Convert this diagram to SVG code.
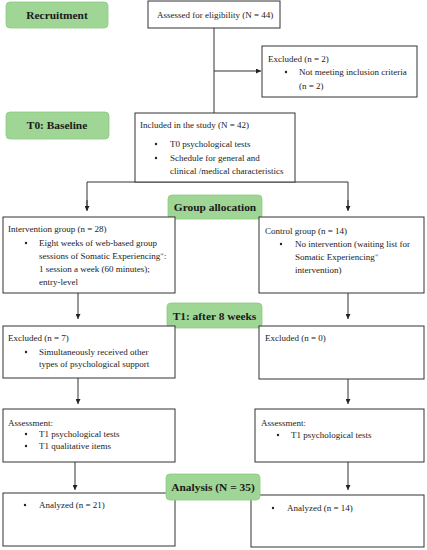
<svg xmlns="http://www.w3.org/2000/svg" width="427" height="550" viewBox="0 0 427 550">
<style>
.box{fill:#fff;stroke:#333;stroke-width:1}
.stage{fill:#9fd595;stroke:#8ccb82;stroke-width:0.8}
.t{font-family:"Liberation Serif","Times New Roman",serif;font-size:9px;fill:#222}
.s{font-family:"Liberation Serif","Times New Roman",serif;font-size:11.4px;font-weight:bold;fill:#1a1a1a;text-anchor:middle}
.c{stroke:#333;stroke-width:1;fill:none}
</style>
<defs>
<marker id="ah" viewBox="0 0 6 6" refX="6" refY="3" markerWidth="5" markerHeight="5" orient="auto" markerUnits="userSpaceOnUse">
<path d="M0,0 L6,3 L0,6 z" fill="#222"/>
</marker>
</defs>
<rect width="427" height="550" fill="#fff"/>
<g id="connectors">
<line class="c" x1="214" y1="28" x2="214" y2="113"/>
<line class="c" x1="214" y1="71" x2="261" y2="71" marker-end="url(#ah)"/>
<polyline class="c" points="87,210 87,182 348,182 348,210" />
<line class="c" x1="87" y1="200" x2="87" y2="211" marker-end="url(#ah)"/>
<line class="c" x1="348" y1="200" x2="348" y2="211" marker-end="url(#ah)"/>
<line class="c" x1="78" y1="293" x2="78" y2="319" marker-end="url(#ah)"/>
<line class="c" x1="348" y1="293" x2="348" y2="319" marker-end="url(#ah)"/>
<line class="c" x1="78" y1="378" x2="78" y2="404" marker-end="url(#ah)"/>
<line class="c" x1="348" y1="379" x2="348" y2="404" marker-end="url(#ah)"/>
<line class="c" x1="75" y1="462" x2="75" y2="490" marker-end="url(#ah)"/>
<line class="c" x1="348" y1="462" x2="348" y2="490" marker-end="url(#ah)"/>
</g>
<g id="recruitment">
<rect class="stage" x="6" y="2" width="102" height="26" rx="4"/>
<text class="s" x="57" y="19">Recruitment</text>
</g>
<g id="assessed">
<rect class="box" x="148" y="1" width="132" height="27"/>
<text class="t" x="157" y="18">Assessed for eligibility (N = 44)</text>
</g>
<g id="excluded1">
<rect class="box" x="262" y="46" width="155" height="51"/>
<text class="t" x="268" y="62">Excluded (n = 2)</text>
<circle cx="286" cy="72" r="1.2" fill="#222"/>
<text class="t" x="299" y="75">Not meeting inclusion criteria</text>
<text class="t" x="299" y="89">(n = 2)</text>
</g>
<g id="baseline">
<rect class="stage" x="6" y="112" width="103" height="27" rx="4"/>
<text class="s" x="57" y="129">T0: Baseline</text>
</g>
<g id="included">
<rect class="box" x="135" y="113" width="160" height="69"/>
<text class="t" x="140" y="128">Included in the study (N = 42)</text>
<circle cx="156" cy="144" r="1.2" fill="#222"/>
<text class="t" x="170" y="147">T0 psychological tests</text>
<circle cx="156" cy="158" r="1.2" fill="#222"/>
<text class="t" x="170" y="161">Schedule for general and</text>
<text class="t" x="170" y="174">clinical /medical characteristics</text>
</g>
<g id="allocation">
<rect class="stage" x="168" y="195" width="94" height="24" rx="4"/>
<text class="s" x="215" y="211">Group allocation</text>
</g>
<g id="intervention">
<rect class="box" x="3" y="217" width="172" height="76"/>
<text class="t" x="8" y="232">Intervention group (n = 28)</text>
<circle cx="26" cy="243" r="1.2" fill="#222"/>
<text class="t" x="39" y="246">Eight weeks of web-based group</text>
<text class="t" x="39" y="259">sessions of Somatic Experiencing<tspan font-size="5" dy="-3">®</tspan><tspan dy="3">:</tspan></text>
<text class="t" x="39" y="272">1 session a week (60 minutes);</text>
<text class="t" x="39" y="285">entry-level</text>
</g>
<g id="control">
<rect class="box" x="259" y="217" width="165" height="76"/>
<text class="t" x="265" y="234">Control group (n = 14)</text>
<circle cx="281" cy="244" r="1.2" fill="#222"/>
<text class="t" x="295" y="247">No intervention (waiting list for</text>
<text class="t" x="295" y="260">Somatic Experiencing<tspan font-size="5" dy="-3">®</tspan></text>
<text class="t" x="295" y="273">intervention)</text>
</g>
<g id="t1">
<rect class="stage" x="167" y="303" width="95" height="25" rx="4"/>
<text class="s" x="214.5" y="320">T1: after 8 weeks</text>
</g>
<g id="excluded-left">
<rect class="box" x="3" y="326" width="172" height="52"/>
<text class="t" x="8" y="341">Excluded (n = 7)</text>
<circle cx="26" cy="352" r="1.2" fill="#222"/>
<text class="t" x="39" y="355">Simultaneously received other</text>
<text class="t" x="39" y="367">types of psychological support</text>
</g>
<g id="excluded-right">
<rect class="box" x="259" y="326" width="165" height="53"/>
<text class="t" x="265" y="341">Excluded (n = 0)</text>
</g>
<g id="assessment-left">
<rect class="box" x="3" y="409" width="172" height="53"/>
<text class="t" x="8" y="426">Assessment:</text>
<circle cx="26" cy="434" r="1.2" fill="#222"/>
<text class="t" x="39" y="437">T1 psychological tests</text>
<circle cx="26" cy="446" r="1.2" fill="#222"/>
<text class="t" x="39" y="449">T1 qualitative items</text>
</g>
<g id="assessment-right">
<rect class="box" x="255" y="409" width="169" height="53"/>
<text class="t" x="261" y="426">Assessment:</text>
<circle cx="278" cy="435" r="1.2" fill="#222"/>
<text class="t" x="291" y="438">T1 psychological tests</text>
</g>
<g id="analyzed-left">
<rect class="box" x="3" y="493" width="172" height="53"/>
<circle cx="25" cy="505" r="1.2" fill="#222"/>
<text class="t" x="39" y="508">Analyzed (n = 21)</text>
</g>
<g id="analyzed-right">
<rect class="box" x="251" y="495" width="173" height="52"/>
<circle cx="273" cy="508" r="1.2" fill="#222"/>
<text class="t" x="287" y="511">Analyzed (n = 14)</text>
</g>
<g id="analysis">
<rect class="stage" x="166" y="474" width="94" height="26" rx="4"/>
<text class="s" x="213" y="491">Analysis (N = 35)</text>
</g>
</svg>
